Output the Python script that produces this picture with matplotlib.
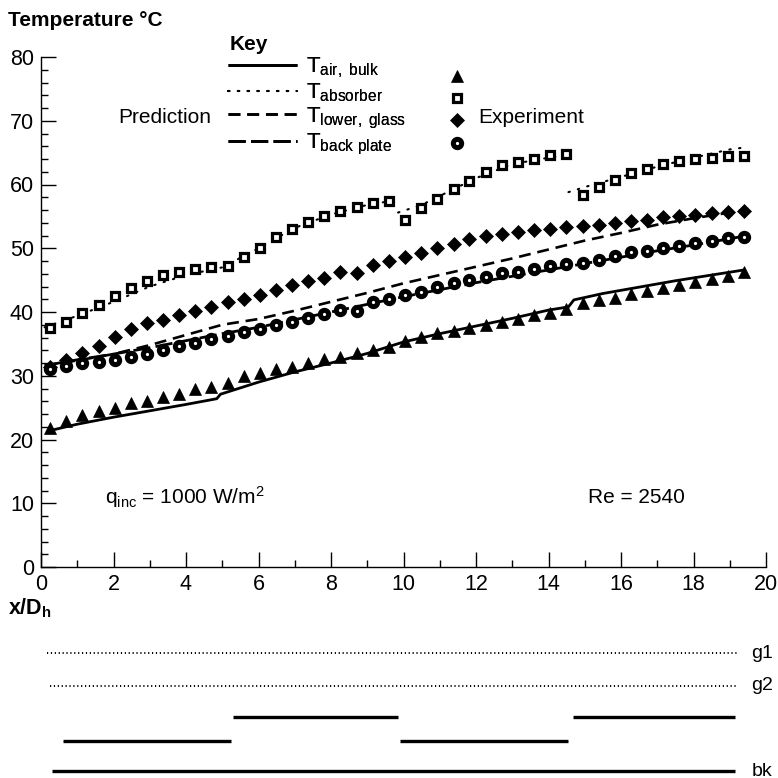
import matplotlib
matplotlib.use("Agg")
import matplotlib.pyplot as plt
from matplotlib.ticker import MultipleLocator

plt.rcParams['font.family'] = ['Liberation Sans', 'DejaVu Sans']
plt.rcParams['mathtext.fontset'] = 'custom'
plt.rcParams['mathtext.rm'] = 'Liberation Sans'
plt.rcParams['mathtext.it'] = 'Liberation Sans:italic'
plt.rcParams['mathtext.bf'] = 'Liberation Sans:bold'
plt.rcParams['mathtext.default'] = 'rm'

# ---------------- data ----------------
x_exp = [0.25, 0.70, 1.14, 1.59, 2.03, 2.48, 2.92, 3.37, 3.81, 4.26, 4.70,
         5.15, 5.59, 6.04, 6.48, 6.93, 7.37, 7.82, 8.26, 8.71, 9.15, 9.60,
         10.04, 10.49, 10.93, 11.38, 11.82, 12.27, 12.71, 13.16, 13.60, 14.05,
         14.49, 14.94, 15.38, 15.83, 16.27, 16.72, 17.16, 17.61, 18.05, 18.50,
         18.94, 19.39]
air_exp = [21.8, 22.9, 23.8, 24.4, 25.0, 25.7, 26.0, 26.7, 27.1, 27.9, 28.3,
           28.9, 29.9, 30.4, 31.0, 31.4, 32.0, 32.6, 33.0, 33.5, 34.0, 34.5,
           35.4, 36.1, 36.7, 37.0, 37.5, 38.0, 38.5, 38.9, 39.5, 39.9, 40.4,
           41.4, 41.9, 42.2, 42.8, 43.3, 43.8, 44.3, 44.7, 45.2, 45.6, 46.3]
absorber_exp = [37.5, 38.5, 39.8, 41.1, 42.5, 43.8, 44.9, 45.8, 46.3, 46.8, 47.1,
                47.2, 48.7, 50.1, 51.7, 53.0, 54.1, 55.1, 55.9, 56.5, 57.1, 57.4,
                54.4, 56.3, 57.8, 59.3, 60.6, 61.9, 63.1, 63.5, 64.0, 64.6, 64.8,
                58.4, 59.6, 60.7, 61.8, 62.4, 63.2, 63.7, 64.0, 64.2, 64.4, 64.5]
glass_exp = [31.3, 32.5, 33.5, 34.7, 36.1, 37.4, 38.3, 38.7, 39.6, 40.2, 40.8,
             41.5, 42.0, 42.7, 43.5, 44.2, 44.8, 45.4, 46.2, 46.1, 47.4, 48.0,
             48.7, 49.3, 50.0, 50.7, 51.4, 52.0, 52.2, 52.5, 52.9, 53.0, 53.3,
             53.5, 53.6, 54.0, 54.3, 54.5, 54.9, 55.0, 55.2, 55.5, 55.7, 55.9]
back_exp = [31.0, 31.5, 32.0, 32.2, 32.5, 33.0, 33.4, 34.0, 34.6, 35.2, 35.8,
            36.3, 36.8, 37.4, 38.0, 38.5, 39.0, 39.7, 40.3, 40.2, 41.5, 42.0,
            42.7, 43.2, 43.9, 44.5, 45.0, 45.5, 46.1, 46.2, 46.8, 47.2, 47.6,
            47.7, 48.2, 48.8, 49.4, 49.6, 50.0, 50.4, 50.8, 51.1, 51.6, 51.8]

# predictions
x_air_pred = [0.25, 1.0, 2.0, 3.0, 4.0, 4.85, 4.95, 6.0, 7.0, 8.0, 9.0, 10.0,
              11.0, 12.0, 13.0, 14.0, 14.55, 14.7, 15.5, 16.5, 17.5, 18.5, 19.4]
air_pred = [21.4, 22.4, 23.5, 24.5, 25.5, 26.4, 27.1, 29.0, 30.6, 32.0, 33.5, 35.3,
            36.6, 37.8, 39.0, 40.3, 40.8, 41.9, 42.9, 43.9, 44.9, 45.8, 46.6]

x_abs_pred = [0.1, 1.0, 2.0, 3.0, 4.0, 5.0, 6.0, 7.0, 8.0, 9.0, 9.75, None,
              9.85, 10.5, 11.0, 12.0, 13.0, 14.0, 14.5, None,
              14.55, 15.0, 16.0, 17.0, 18.0, 19.0, 19.4]
abs_pred = [37.6, 39.4, 41.6, 44.0, 45.8, 47.0, 50.0, 53.2, 55.3, 56.8, 57.5, None,
            55.6, 56.8, 58.2, 61.0, 63.2, 64.2, 64.6, None,
            58.8, 59.6, 61.2, 62.8, 64.2, 65.5, 65.8]

x_glass_pred = [0.1, 1.0, 2.0, 3.0, 4.0, 5.0, 6.0, 7.0, 8.0, 9.0, 10.0, 11.0,
                12.0, 13.0, 14.0, 15.0, 16.0, 17.0, 18.0, 19.0, 19.4]
glass_pred = [31.6, 32.4, 33.4, 34.8, 36.4, 38.0, 38.9, 40.2, 41.6, 43.0, 44.5, 45.8,
              47.1, 48.4, 49.8, 51.2, 52.4, 53.7, 54.7, 55.6, 56.0]

x_back_pred = [0.1, 1.0, 2.0, 3.0, 4.0, 5.0, 6.0, 7.0, 8.0, 9.0, 10.0, 11.0,
               12.0, 13.0, 14.0, 15.0, 16.0, 17.0, 18.0, 19.0, 19.4]
back_pred = [31.6, 32.5, 33.4, 34.4, 35.5, 36.6, 37.6, 38.8, 40.0, 41.2, 42.4, 43.5,
             44.6, 45.6, 46.6, 47.6, 48.6, 49.6, 50.5, 51.5, 51.9]

pred_labels = [r'T$_{air,\ bulk}$', r'T$_{absorber}$',
               r'T$_{lower,\ glass}$', r'T$_{back\ plate}$']

# bottom strip: segment layout along x/Dh
strip_labels = ['g1', 'g2', '', '', 'bk']
strip_segments = [[(0.17, 19.2)], [(0.25, 19.2)],
                  [(5.3, 9.85), (14.68, 19.14)],
                  [(0.6, 5.24), (9.9, 14.54)],
                  [(0.3, 19.14)]]

x_ticks = [0, 2, 4, 6, 8, 10, 12, 14, 16, 18, 20]
y_ticks = [0, 10, 20, 30, 40, 50, 60, 70, 80]

# ---------------- figure ----------------
W = 778.0
fig = plt.figure(figsize=(7.78, 7.78), dpi=100)
ax = fig.add_axes([41 / W, 1 - 567 / W, 725 / W, 510 / W])
ax.set_xlim(0, 20)
ax.set_ylim(0, 80)
for s in ['top', 'right']:
    ax.spines[s].set_visible(False)
for s in ['left', 'bottom']:
    ax.spines[s].set_linewidth(1.0)
ax.set_xticks(x_ticks)
ax.set_yticks(y_ticks)
ax.xaxis.set_minor_locator(MultipleLocator(1))
ax.yaxis.set_minor_locator(MultipleLocator(2))
ax.tick_params(which='major', direction='in', length=10.5, width=1.0,
               labelsize=15.5, pad=5, colors='black')
ax.tick_params(which='minor', direction='in', length=5, width=1.0)

# prediction lines
l_air, = ax.plot(x_air_pred, air_pred, color='black', lw=2.0, solid_capstyle='butt')
l_abs, = ax.plot(x_abs_pred, abs_pred, color='black', lw=1.5,
                 linestyle=(0, (0.7, 4.0)), dash_capstyle='round')
l_gl, = ax.plot(x_glass_pred, glass_pred, color='black', lw=1.9,
                linestyle=(0, (4.5, 2.6)))
l_bp, = ax.plot(x_back_pred, back_pred, color='black', lw=2.0,
                linestyle=(0, (6.2, 1.9)))

# experiments
m_air, = ax.plot(x_exp, air_exp, linestyle='none', marker='^', ms=9,
                 mfc='black', mec='black', mew=0.5)
m_abs, = ax.plot(x_exp, absorber_exp, linestyle='none', marker='s', ms=6.3,
                 mfc='white', mec='black', mew=2.3)
m_gl, = ax.plot(x_exp, glass_exp, linestyle='none', marker='D', ms=7,
                mfc='black', mec='black', mew=0.5)
m_bp, = ax.plot(x_exp, back_exp, linestyle='none', marker='o', ms=6,
                mfc='white', mec='black', mew=3.6)

# key
fig.text(230 / W, 1 - 45 / W, 'Key', fontsize=15, fontweight='bold',
         va='center', ha='left')
leg1 = fig.legend([l_air, l_abs, l_gl, l_bp], pred_labels, loc='upper left',
                  bbox_to_anchor=(228 / W, 1 - 56 / W), frameon=False,
                  fontsize=16, handlelength=3.1, handletextpad=0.4,
                  labelspacing=0.06, borderpad=0, borderaxespad=0)
fig.add_artist(leg1)
leg2 = fig.legend([m_air, m_abs, m_gl, m_bp], ['', '', '', ''], loc='upper left',
                  bbox_to_anchor=(447 / W, 1 - 68 / W), frameon=False,
                  fontsize=15, handlelength=1.0, handletextpad=0,
                  labelspacing=0.16, borderpad=0, borderaxespad=0)

ax.text(0.106, 0.882, 'Prediction', transform=ax.transAxes, fontsize=15,
        va='center', ha='left')
ax.text(0.603, 0.882, 'Experiment', transform=ax.transAxes, fontsize=15,
        va='center', ha='left')
ax.text(0.088, 0.137, r'q$_{inc}$ = 1000 W/m$^{2}$', transform=ax.transAxes,
        fontsize=15, va='center', ha='left')
ax.text(0.754, 0.137, 'Re = 2540', transform=ax.transAxes, fontsize=15,
        va='center', ha='left')

fig.text(8 / W, 1 - 20 / W, 'Temperature \u00b0C', fontsize=15, fontweight='bold',
         va='center', ha='left')
fig.text(8 / W, 1 - 608 / W, r'x/D$_\mathbf{h}$', fontsize=15.5, fontweight='bold',
         va='center', ha='left')

# bottom strip
axb = fig.add_axes([41 / W, 0, 725 / W, 138 / W])
axb.set_xlim(0, 20)
axb.set_ylim(138, 0)
axb.axis('off')
row_pos = [13, 46, 77, 101, 131]
for i, (lab, segs) in enumerate(zip(strip_labels, strip_segments)):
    for (a, b) in segs:
        if i < 2:
            axb.plot([a, b], [row_pos[i], row_pos[i]], color='black', lw=1.4,
                     linestyle=(0, (0.6, 1.4)), clip_on=False)
        else:
            axb.plot([a, b], [row_pos[i], row_pos[i]], color='black', lw=2.4,
                     solid_capstyle='butt', clip_on=False)
    if lab:
        axb.text(19.6, row_pos[i], lab, fontsize=14, va='center', ha='left')

fig.savefig('out.png', dpi=100)
